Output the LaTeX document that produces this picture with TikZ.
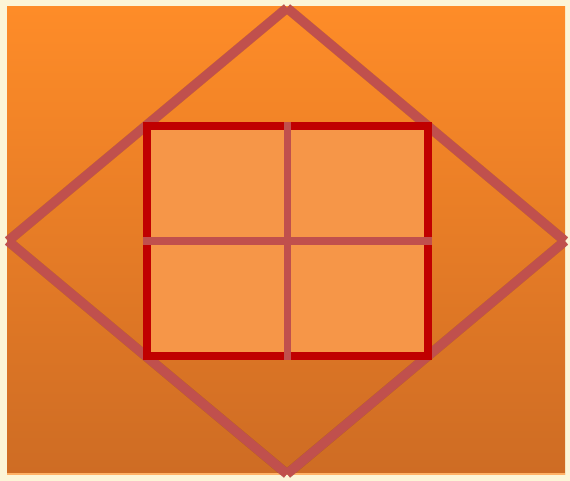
\documentclass[tikz,border=0pt]{standalone}
\begin{document}
\begin{tikzpicture}[x=1pt,y=-1pt,
  diag/.style={draw=dline,line width=9.5pt},
  shadowline/.style={draw=black,opacity=0.12,line width=10pt}]
\definecolor{parch}{RGB}{252,245,215}
\definecolor{topor}{RGB}{254,140,40}
\definecolor{botor}{RGB}{206,108,36}
\definecolor{dline}{RGB}{192,80,77}
\definecolor{rborder}{RGB}{192,0,0}
\definecolor{rfill}{RGB}{246,150,72}
\useasboundingbox (0,0) rectangle (570,481);
\fill[parch] (0,0) rectangle (570,481);
\shade[top color=topor,bottom color=botor] (7,7) rectangle (565,474);
\draw[line width=1.5pt,orange!60!white] (7,474) -- (565,474);
\coordinate (T) at (287,8);
\coordinate (L) at (8,241);
\coordinate (R) at (565,241);
\coordinate (B) at (287,474);
% shadows
\begin{scope}[shift={(3,4)}]
\draw[shadowline] (T) -- (L) (L) -- (B) (B) -- (R) (R) -- (T);
\end{scope}
\draw[diag] (T) -- (L);
\draw[diag] (L) -- (B);
\draw[diag] (B) -- (R);
\draw[diag] (R) -- (T);
\node[draw=rborder,fill=rfill,line width=8pt,minimum width=281pt,minimum height=230pt,inner sep=0pt] (box) at (287.5,241) {};
\draw[dline,line width=7.5pt] (box.north) -- (box.south);
\draw[dline,line width=7.5pt] (box.west) -- (box.east);
\end{tikzpicture}
\end{document}
